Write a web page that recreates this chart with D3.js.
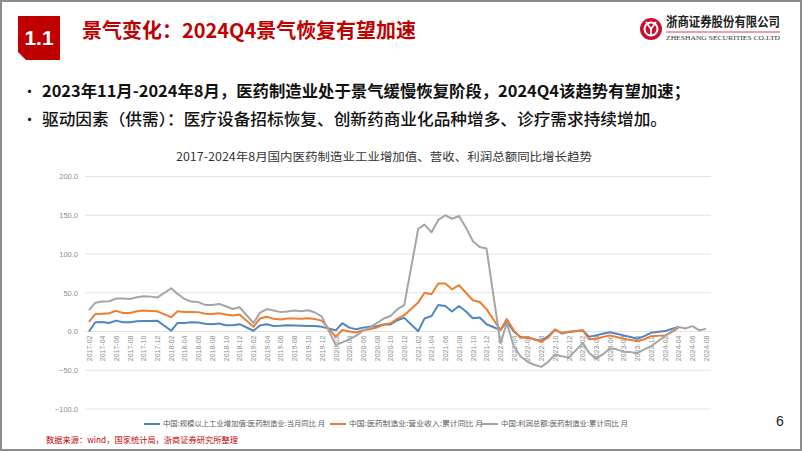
<!DOCTYPE html>
<html><head><meta charset="utf-8">
<script src="https://cdn.jsdelivr.net/npm/d3@7/dist/d3.min.js"></script>
<style>
html,body{margin:0;padding:0;background:#fff;}
svg{display:block;font-family:"Noto Sans CJK SC","Noto Sans",sans-serif;}
</style></head>
<body><svg id="c" width="802" height="451"></svg>
<script>
// ---- data ----
const categories = [
"2017-02","2017-03","2017-04","2017-05","2017-06","2017-07","2017-08","2017-09","2017-10","2017-11","2017-12",
"2018-02","2018-03","2018-04","2018-05","2018-06","2018-07","2018-08","2018-09","2018-10","2018-11","2018-12",
"2019-02","2019-03","2019-04","2019-05","2019-06","2019-07","2019-08","2019-09","2019-10","2019-11","2019-12",
"2020-02","2020-03","2020-04","2020-05","2020-06","2020-07","2020-08","2020-09","2020-10","2020-11","2020-12",
"2021-02","2021-03","2021-04","2021-05","2021-06","2021-07","2021-08","2021-09","2021-10","2021-11","2021-12",
"2022-02","2022-03","2022-04","2022-05","2022-06","2022-07","2022-08","2022-09","2022-10","2022-11","2022-12",
"2023-02","2023-03","2023-04","2023-05","2023-06","2023-07","2023-08","2023-09","2023-10","2023-11","2023-12",
"2024-02","2024-03","2024-04","2024-05","2024-06","2024-07","2024-08"];

const valueAdded = [
0,12,12.4,11,14,12,12,13.3,13.7,13.7,14,
1,11,11,12,11.6,10,9.4,10.3,8,8,9.4,
1,7.7,9.4,7,7.3,8,7.7,7.3,7,7,6,
1.5,10.7,5,3,5,6,6.9,9,9,14.6,17.6,
0.4,17,20,34.3,33,25.8,33,25.8,17,18,9.4,
2,13,0,-7,-8,-10,-12,-6,2.6,-2.6,-0.5,
1.7,-6.9,-5,-3,-1,-3,-5,-7,-9.4,-6,-1.7,
0.5,3.4,6,null,null,null,null];

const revenue = [
12.4,22.7,23,23.6,26.6,24,24,26,27,26.6,26,
18.5,26,25.3,25.3,25,23,22.7,23.6,22,20.6,22,
6,16.7,19,16.3,15.5,16.7,16.7,16.3,17,16,14,
-7,2,0,-1.3,1.7,3,5,9,10.7,16.7,21,
37.3,50,48,62,61.8,54.5,59.7,50,40.3,38,28.8,
2,16,1.5,-8,-7.3,-10.3,-13,-8,2,-1.7,-0.4,
1.3,-10,-9.4,-7,-5,-7,-9.4,-11,-12.4,-10,-6,
-5,-1,4.7,null,null,null,null];

const profit = [
27.5,37,38.6,39,42.5,42.5,42,44.2,45.5,45,43.8,
55.8,48.5,42,38.6,38,34.3,34.3,35.6,32.6,29,31.3,
11,24,29,27,25,25.8,27,26.2,27.5,24.5,19.3,
-17.6,-14,-10,-5.6,1,5,10.7,16.7,20,28.8,34,
132.6,138,128,144,150,145.5,149,134,116.7,109,107,
-15,11,-19,-32,-39,-43,-45.6,-39,-29.6,-32,-34,
-14.6,-27.5,-35,-29.6,-22,-23,-26,-26.6,-28,-23,-19,
-6,0.4,6,3.9,6.9,1.7,3.4];

const seriesNames = ["中国:规模以上工业增加值:医药制造业:当月同比 月","中国:医药制造业:营业收入:累计同比 月","中国:利润总额:医药制造业:累计同比 月"];
const seriesColors = ["#4e86c4","#ed7d31","#a5a5a5"];
const yTicks = [-100,-50,0,50,100,150,200];

const headerNum = "1.1";
const headerTitle = "景气变化：2024Q4景气恢复有望加速";
const bullets = ["2023年11月-2024年8月，医药制造业处于景气缓慢恢复阶段，2024Q4该趋势有望加速；",
                 "驱动因素（供需）：医疗设备招标恢复、创新药商业化品种增多、诊疗需求持续增加。"];
const chartTitle = "2017-2024年8月国内医药制造业工业增加值、营收、利润总额同比增长趋势";
const sourceText = "数据来源：wind，国家统计局，浙商证券研究所整理";
const pageNum = "6";

// ---- drawing ----
const svg = d3.select("#c");
const parse = d3.timeParse("%Y-%m");
const dates = categories.map(parse);

// frame
svg.append("rect").attr("x",1).attr("y",1).attr("width",800).attr("height",449)
  .attr("fill","#fff").attr("stroke","#8c8c8c").attr("stroke-width",2);

// header block
svg.append("path").attr("d","M18,16 L60,16 L60,60 L26,60 L18,52 Z").attr("fill","#c00000");
svg.append("text").attr("x",39).attr("y",39).attr("text-anchor","middle").attr("dominant-baseline","middle")
  .attr("fill","#fff").attr("font-size",21).attr("font-weight","bold")
  .attr("font-family","'Liberation Sans Narrow','Liberation Sans',Arial,sans-serif").text(headerNum);
svg.append("text").attr("x",82).attr("y",33).attr("dominant-baseline","middle")
  .attr("fill","#c00000").attr("font-size",20).attr("font-weight","bold")
  .attr("textLength",334).attr("lengthAdjust","spacingAndGlyphs").text(headerTitle);

// logo
const lg = svg.append("g");
lg.append("circle").attr("cx",651).attr("cy",29).attr("r",11).attr("fill","#c8102e");
lg.append("circle").attr("cx",651).attr("cy",29).attr("r",6.5).attr("fill","none").attr("stroke","#fff").attr("stroke-width",2);
lg.append("path").attr("d","M646,22 L651,29 L656,22 M651,29 L651,36").attr("stroke","#fff").attr("stroke-width",1.8).attr("fill","none");
lg.append("text").attr("x",666).attr("y",26).attr("font-size",13).attr("font-weight","bold").attr("fill","#222")
  .attr("textLength",114).attr("lengthAdjust","spacingAndGlyphs").text("浙商证券股份有限公司");
lg.append("line").attr("x1",666).attr("x2",780).attr("y1",32).attr("y2",32).attr("stroke","#c8102e").attr("stroke-width",0.8);
lg.append("text").attr("x",666).attr("y",40).attr("font-size",7).attr("fill","#333")
  .attr("font-family","'Liberation Serif',serif")
  .attr("textLength",114).attr("lengthAdjust","spacingAndGlyphs").text("ZHESHANG SECURITIES CO.LTD");

// bullets
const bulletY = [93,121];
const bulletW = [648,625];
bullets.forEach((t,i)=>{
  svg.append("text").attr("x",22).attr("y",bulletY[i]).attr("dominant-baseline","middle")
    .attr("font-size",15).attr("fill","#111").text("•");
  svg.append("text").attr("x",42).attr("y",bulletY[i]).attr("dominant-baseline","middle")
    .attr("font-size",16).attr("font-weight", i===0?"bold":"500").attr("fill","#111")
    .attr("textLength",bulletW[i]).attr("lengthAdjust","spacingAndGlyphs").text(t);
});

// chart title
svg.append("text").attr("x",384).attr("y",158).attr("text-anchor","middle").attr("dominant-baseline","middle")
  .attr("font-size",11.5).attr("fill","#333")
  .attr("textLength",416).attr("lengthAdjust","spacingAndGlyphs").text(chartTitle);

// scales
const x = d3.scaleTime().domain([parse("2017-02"), parse("2024-08")]).range([89,706]);
const y = d3.scaleLinear().domain([-100,200]).range([409,176.5]);

// grid
const plotL = 85, plotR = 711;
svg.append("g").selectAll("line").data(yTicks).join("line")
  .attr("x1",plotL).attr("x2",plotR).attr("y1",d=>y(d)).attr("y2",d=>y(d))
  .attr("stroke","#e3e3e3").attr("stroke-width",1);

// y axis labels
const yAxis = d3.axisLeft(y).tickValues(yTicks).tickFormat(d3.format(".1f")).tickSize(0).tickPadding(0);
const yg = svg.append("g").attr("transform","translate(78,0)").call(yAxis);
yg.select(".domain").remove();
yg.selectAll("text").attr("font-size",7.5).attr("fill","#8c8c8c").attr("font-family","'Liberation Sans',Arial,sans-serif");

// x axis labels
const tickCats = categories.filter(c => (+c.slice(5)) % 2 === 0);
const xAxis = d3.axisBottom(x).tickValues(tickCats.map(parse)).tickFormat(d3.timeFormat("%Y-%m")).tickSize(0);
const xg = svg.append("g").attr("transform",`translate(0,${y(0)})`).call(xAxis);
xg.select(".domain").remove();
xg.selectAll("text").attr("font-size",7).attr("fill","#8c8c8c")
  .attr("font-family","'Liberation Sans',Arial,sans-serif")
  .attr("text-anchor","end").attr("dy","0.32em")
  .attr("transform","translate(0,4) rotate(-90)")
  .attr("x",0).attr("y",0);

// lines
const allSeries = [valueAdded, revenue, profit];
const line = d3.line().defined(d=>d[1]!=null).x(d=>x(d[0])).y(d=>y(d[1]));
allSeries.forEach((s,i)=>{
  svg.append("path").datum(dates.map((dt,j)=>[dt,s[j]]))
    .attr("d",line).attr("fill","none").attr("stroke",seriesColors[i])
    .attr("stroke-width",2).attr("stroke-linejoin","round");
});

// legend
const legX = [144,330,482];
const legW = [162,134,127];
seriesNames.forEach((n,i)=>{
  svg.append("line").attr("x1",legX[i]).attr("x2",legX[i]+16).attr("y1",424).attr("y2",424)
    .attr("stroke",seriesColors[i]).attr("stroke-width",2);
  svg.append("text").attr("x",legX[i]+19).attr("y",424).attr("dominant-baseline","middle")
    .attr("font-size",7).attr("fill","#595959")
    .attr("textLength",legW[i]).attr("lengthAdjust","spacingAndGlyphs").text(n);
});

// source
svg.append("text").attr("x",46).attr("y",441).attr("dominant-baseline","middle")
  .attr("font-size",8).attr("fill","#c00000")
  .attr("textLength",192).attr("lengthAdjust","spacingAndGlyphs").text(sourceText);

// page number
svg.append("text").attr("x",780).attr("y",422).attr("text-anchor","middle").attr("dominant-baseline","middle")
  .attr("font-size",14).attr("fill","#222").attr("font-family","'Liberation Sans',Arial,sans-serif").text(pageNum);
</script></body></html>
